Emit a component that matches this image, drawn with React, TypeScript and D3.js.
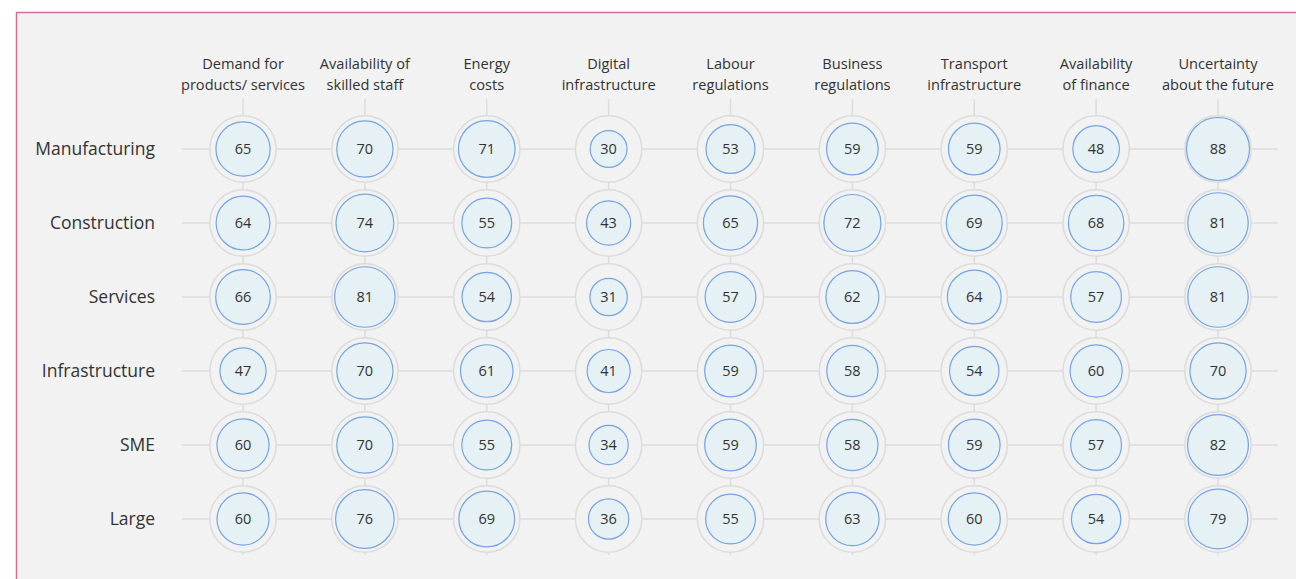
import React from "react";
import * as d3 from "d3";

const categories = [
  "Demand for|products/ services",
  "Availability of|skilled staff",
  "Energy|costs",
  "Digital|infrastructure",
  "Labour|regulations",
  "Business|regulations",
  "Transport|infrastructure",
  "Availability|of finance",
  "Uncertainty|about the future",
];
const sectors = ["Manufacturing", "Construction", "Services", "Infrastructure", "SME", "Large"];
const manufacturing = [65, 70, 71, 30, 53, 59, 59, 48, 88];
const construction = [64, 74, 55, 43, 65, 72, 69, 68, 81];
const services = [66, 81, 54, 31, 57, 62, 64, 57, 81];
const infrastructure = [47, 70, 61, 41, 59, 58, 54, 60, 70];
const sme = [60, 70, 55, 34, 59, 58, 59, 57, 82];
const large = [60, 76, 69, 36, 55, 63, 60, 54, 79];
const values = [manufacturing, construction, services, infrastructure, sme, large];

export default function App() {
  const W = 1296, H = 579;
  const x = d3.scalePoint<number>().domain(d3.range(categories.length)).range([243, 1218]);
  const y = d3.scalePoint<number>().domain(d3.range(sectors.length)).range([149, 519]);
  const r = d3.scaleSqrt().domain([0, 100]).range([0, 33.6]);
  const font = "'Open Sans', 'Noto Sans', sans-serif";
  return (
    <svg width={W} height={H} style={{ position: "absolute", left: 0, top: 0 }} fontFamily={font}>
      <rect x={0} y={0} width={W} height={H} fill="#ffffff" />
      <rect x={16.5} y={12.5} width={W + 20} height={H + 20} fill="#f2f2f2" stroke="#d06e9b" strokeWidth={1.5} />
      {sectors.map((s, i) => (
        <line key={"h" + i} x1={182} x2={1278} y1={y(i)} y2={y(i)} stroke="#dcdcdc" strokeWidth={1.5} />
      ))}
      {categories.map((c, j) => (
        <line key={"v" + j} x1={x(j)} x2={x(j)} y1={99} y2={555} stroke="#dcdcdc" strokeWidth={1.5} />
      ))}
      {categories.map((c, j) => (
        <text key={"c" + j} x={x(j)} textAnchor="middle" fontSize={14.6} fill="#333">
          {c.split("|").map((line, k) => (
            <tspan key={k} x={x(j)} y={69 + k * 21}>{line}</tspan>
          ))}
        </text>
      ))}
      {sectors.map((s, i) => (
        <text key={"s" + i} x={155} y={y(i)! + 6} textAnchor="end" fontSize={17.5} fill="#333">{s}</text>
      ))}
      {values.map((row, i) =>
        row.map((v, j) => (
          <g key={i + "-" + j} transform={`translate(${x(j)},${y(i)})`}>
            <circle r={33.2} fill="#f2f2f2" stroke="#dcdcdc" strokeWidth={1.5} />
            <circle r={r(v)} fill="#e5f1f5" stroke="#74a3e6" strokeWidth={1.2} />
            <text y={5} textAnchor="middle" fontSize={14.5} fill="#333">{v}</text>
          </g>
        ))
      )}
    </svg>
  );
}
